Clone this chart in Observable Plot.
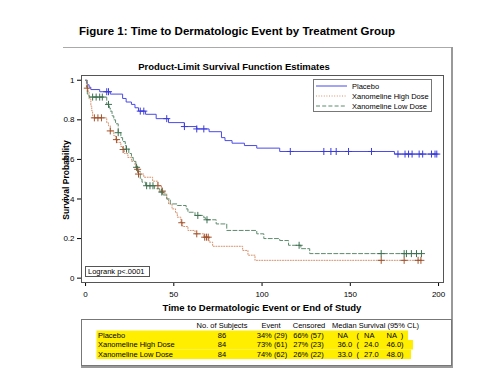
<!DOCTYPE html>
<html><head><meta charset="utf-8">
<script src="https://cdn.jsdelivr.net/npm/d3@7"></script>
<script src="https://cdn.jsdelivr.net/npm/@observablehq/plot@0.6"></script>
<style>
body{margin:0;background:#fff;}
#wrap{position:relative;width:478px;height:376px;overflow:hidden;}
</style></head><body><div id="wrap"></div>
<script>
// ---- data ----
const groups = ["Placebo", "Xanomeline High Dose", "Xanomeline Low Dose"];

const placeboTime = [0,1,2,3,8,14,21,23,26,28,30,34,40,47,56,63,70,77,79,83,90,97,110,175,199];
const placeboSurv = [1,0.977,0.965,0.953,0.942,0.93,0.908,0.89,0.878,0.861,0.844,0.828,0.806,0.786,0.766,0.754,0.74,0.71,0.695,0.682,0.67,0.657,0.64,0.627,0.627];
const placeboCensor = [12,13,31,33,46,56,63,67,116,135,139,142,149,162,177,181,183,185,189,191,196,198,199];

const highTime = [0,1,1.5,2,3,3.5,4,12,13,14,16,17,18,20,21,22,24,26,28,29,30,33,38,41,43,44,46,47,49,51,52,54,55,58,62,67,70,72,89,92,96,190];
const highSurv = [1,0.96,0.94,0.905,0.87,0.845,0.81,0.785,0.77,0.744,0.72,0.70,0.686,0.665,0.65,0.63,0.61,0.59,0.57,0.55,0.526,0.51,0.49,0.467,0.44,0.426,0.40,0.375,0.35,0.33,0.308,0.28,0.261,0.241,0.224,0.207,0.182,0.161,0.14,0.116,0.09,0.09];
const highCensor = [1,5,7,9,14,17.5,21.3,29.5,30,41,43.5,54.5,63,67.5,68.5,69.5,167.5,180.5,188.4,190];

const lowTime = [0,0.5,1,2,12,13.5,14,15,16,17,18.5,20,21,22.5,23,24.5,26,27,28.5,29.5,31,32,34,39,42,44,46,48,52,57,58,62,67,68,74,80,97,101,110,115,122,127,190];
const lowSurv = [1,0.965,0.93,0.915,0.878,0.86,0.844,0.82,0.80,0.78,0.735,0.71,0.69,0.67,0.652,0.63,0.61,0.59,0.56,0.54,0.5,0.485,0.467,0.452,0.435,0.42,0.40,0.375,0.367,0.35,0.333,0.317,0.305,0.295,0.274,0.241,0.224,0.2,0.19,0.166,0.149,0.124,0.124];
const lowCensor = [4,6,8,9.5,13,18.5,23.2,28.9,34.6,36.5,38.2,43.2,63.6,68.8,121,167.5,180.5,181.8,184.6,187.5,190.3];

const xTicks = [0,50,100,150,200];
const yTicks = [0,0.2,0.4,0.6,0.8,1];

const tableHeader = ["No. of Subjects","Event","Censored","Median Survival (95% CL)"];
const tableSubjects = ["86","84","84"];
const tableEvent = ["34% (29)","73% (61)","74% (62)"];
const tableCensored = ["66% (57)","27% (23)","26% (22)"];
const tableMedian = ["NA","36.0","33.0"];
const tableLower = ["NA","24.0","27.0"];
const tableUpper = ["NA","46.0","48.0"];

// ---- styles ----
const FONT = "'Liberation Sans', Arial, Helvetica, sans-serif";
const lineColor = ["#4a4aea","#d6906c","#5c8c6c"];
const markColor = ["#3a3ad8","#a0522d","#3f7050"];
const dash = [null,"1,1.6","4,2.2"];

const series = [
  {time: placeboTime, surv: placeboSurv, censor: placeboCensor},
  {time: highTime, surv: highSurv, censor: highCensor},
  {time: lowTime, surv: lowSurv, censor: lowCensor}
];
function survAt(ser, t){ let s = 1; ser.time.forEach((tt,i)=>{ if (tt <= t) s = ser.surv[i]; }); return s; }

const lineData = series.map((ser,k)=> ser.time.map((t,i)=>({group: groups[k], t, s: ser.surv[i]})));
const censorData = series.map((ser,k)=> ser.censor.map(t=>({group: groups[k], t, s: survAt(ser,t)})));

const W = 478, H = 376;
const marks = [Plot.frame({stroke:"#555", strokeWidth:1})];
series.forEach((ser,k)=>{
  marks.push(Plot.line(lineData[k], {x:"t", y:"s", curve:"step-after", stroke: lineColor[k], strokeWidth: 1, strokeDasharray: dash[k] || undefined}));
});
series.forEach((ser,k)=>{
  marks.push(Plot.dot(censorData[k], {x:"t", y:"s", symbol:"plus", r:2.4, stroke: markColor[k], strokeWidth:1}));
});

const chart = Plot.plot({
  width: W, height: H,
  marginLeft: 81, marginRight: 35, marginTop: 75, marginBottom: 94,
  style: {fontFamily: FONT, fontSize: "8px", color: "#000", background: "transparent", overflow: "visible"},
  x: {domain: [-2.3, 202.8], ticks: xTicks, tickSize: 4, tickPadding: 5, label: null, tickFormat: d=>String(d)},
  y: {domain: [-0.022, 1.024], ticks: yTicks, tickSize: 4, tickPadding: 3, label: null, tickFormat: d=>String(d)},
  marks
});
document.getElementById("wrap").appendChild(chart);

// ---- decorations ----
const svg = d3.select(chart);
const g = svg.append("g").attr("font-family", FONT).attr("fill", "#000").attr("text-anchor", "start");
// outer frame (top, right, bottom)
g.append("line").attr("x1",63).attr("x2",452).attr("y1",47.5).attr("y2",47.5).attr("stroke","#aaa");
g.append("line").attr("x1",452).attr("x2",452).attr("y1",47).attr("y2",368).attr("stroke","#999").attr("stroke-width",2);
g.append("line").attr("x1",81).attr("x2",453).attr("y1",367).attr("y2",367).attr("stroke","#999").attr("stroke-width",2);

// titles
g.append("text").attr("x",237).attr("y",35).attr("text-anchor","middle").attr("font-weight","bold").attr("font-size","11.5px").text("Figure 1: Time to Dermatologic Event by Treatment Group");
g.append("text").attr("x",234).attr("y",69.5).attr("text-anchor","middle").attr("font-weight","bold").attr("font-size","9.5px").text("Product-Limit Survival Function Estimates");
g.append("text").attr("x",262).attr("y",311).attr("text-anchor","middle").attr("font-weight","bold").attr("font-size","9.5px").text("Time to Dermatologic Event or End of Study");
g.append("text").attr("transform","translate(69,180) rotate(-90)").attr("text-anchor","middle").attr("font-weight","bold").attr("font-size","8.5px").text("Survival Probability");

// legend
g.append("rect").attr("x",313.5).attr("y",79.5).attr("width",118).attr("height",32).attr("fill","#fff").attr("stroke","#777");
groups.forEach((name,k)=>{
  const y = 86 + k*10;
  g.append("line").attr("x1",316).attr("x2",347).attr("y1",y).attr("y2",y).attr("stroke",lineColor[k]).attr("stroke-width",1).attr("stroke-dasharray",dash[k]);
  g.append("text").attr("x",352).attr("y",y+2.8).attr("text-anchor","start").attr("font-size","7.5px").text(name);
});

// logrank box
g.append("rect").attr("x",85.5).attr("y",266.5).attr("width",64).attr("height",10).attr("fill","#fff").attr("stroke","#555");
g.append("text").attr("x",88).attr("y",274.3).attr("text-anchor","start").attr("font-size","7.5px").text("Logrank p<.0001");

// table
g.append("rect").attr("x",81.5).attr("y",319.5).attr("width",370).attr("height",46).attr("fill","none").attr("stroke","#777");
const rowY = [335, 344.5, 354];
const hiRight = [408, 413, 411];
rowY.forEach((y,i)=>{
  g.append("rect").attr("x",96.5).attr("y",y-4.5).attr("width",hiRight[i]-96.5).attr("height",9.5).attr("fill","#ffee00");
});
const hy = 328;
g.append("text").attr("x",222).attr("y",hy).attr("text-anchor","middle").attr("font-size","7.5px").text(tableHeader[0]);
g.append("text").attr("x",271).attr("y",hy).attr("text-anchor","middle").attr("font-size","7.5px").text(tableHeader[1]);
g.append("text").attr("x",309).attr("y",hy).attr("text-anchor","middle").attr("font-size","7.5px").text(tableHeader[2]);
g.append("text").attr("x",332).attr("y",hy).attr("text-anchor","start").attr("font-size","7.5px").text(tableHeader[3]);
groups.forEach((name,i)=>{
  const y = rowY[i] + 2.8;
  const t = (x,s,anchor)=>g.append("text").attr("x",x).attr("y",y).attr("text-anchor",anchor||"start").attr("font-size","7.5px").text(s);
  t(98, name);
  t(222, tableSubjects[i], "middle");
  t(272, tableEvent[i], "middle");
  t(308.5, tableCensored[i], "middle");
  t(337.5, tableMedian[i]);
  t(356.5, "(");
  t(364, tableLower[i]);
  t(386.5, tableUpper[i] + (i===0 ? "  )" : ")"));
});
</script>
</body></html>
